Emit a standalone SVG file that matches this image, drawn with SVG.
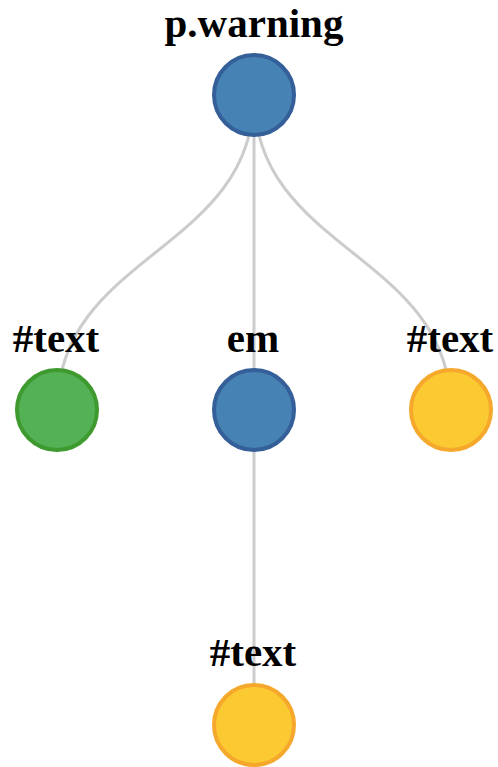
<svg xmlns="http://www.w3.org/2000/svg" width="498" height="767" viewBox="0 0 498 767">
<style>
.link{fill:none;stroke:#cccccc;stroke-width:3}
.lbl{font-family:"Liberation Serif","Times New Roman",serif;font-weight:bold;font-size:41px;fill:#000;text-anchor:middle}
.blue{fill:#4682b4;stroke:#345f98;stroke-width:4}
.green{fill:#55b155;stroke:#3e9a2e;stroke-width:4}
.yellow{fill:#fbca33;stroke:#f5a82b;stroke-width:4}
</style>
<rect width="498" height="767" fill="#ffffff"/>
<g id="links">
<path class="link" d="M254,95 C254,252.5 57,252.5 57,410"/>
<path class="link" d="M254,95 L254,410"/>
<path class="link" d="M254,95 C254,252.5 451,252.5 451,410"/>
<path class="link" d="M254,410 L254,725"/>
</g>
<g id="node-p-warning">
<circle class="blue" cx="254" cy="95" r="40"/>
<text class="lbl" x="254" y="37">p.warning</text>
</g>
<g id="node-text-1">
<circle class="green" cx="57" cy="410" r="40"/>
<text class="lbl" x="56" y="352">#text</text>
</g>
<g id="node-em">
<circle class="blue" cx="254" cy="410" r="40"/>
<text class="lbl" x="253" y="352">em</text>
</g>
<g id="node-text-2">
<circle class="yellow" cx="451" cy="410" r="40"/>
<text class="lbl" x="450" y="352">#text</text>
</g>
<g id="node-text-3">
<circle class="yellow" cx="254" cy="725" r="40"/>
<text class="lbl" x="253" y="666">#text</text>
</g>
</svg>
